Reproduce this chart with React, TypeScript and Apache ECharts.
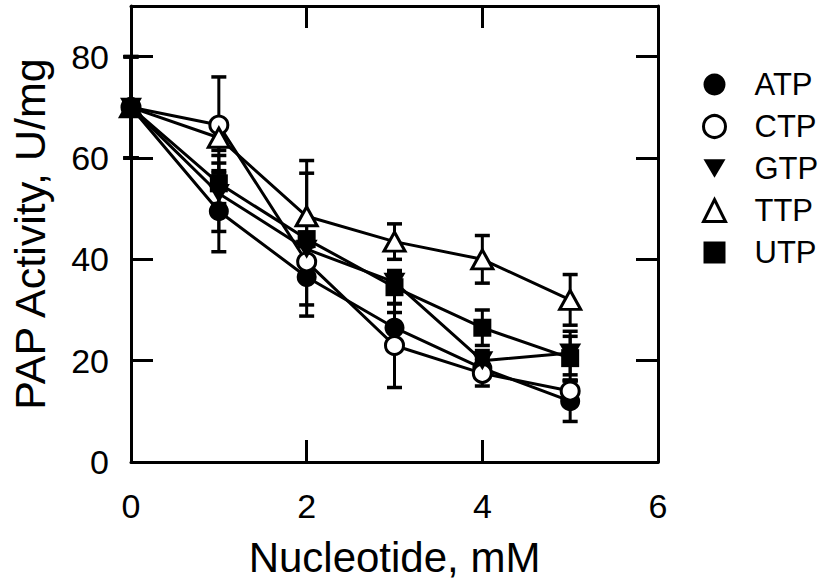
import React, { useEffect, useRef } from "react";
import * as echarts from "echarts";

const concentrations = [0, 1, 2, 3, 4, 5];
const xTicks = [0, 2, 4, 6];
const yTicks = [0, 20, 40, 60, 80];

const atp = [70, 49.5, 36.5, 26.5, 18.5, 12];
const atpErr = [10, 8, 7.7, 3, 2, 4];
const ctp = [70, 66.5, 39.5, 23, 17.5, 14];
const ctpErr = [10, 9.5, 3, 8.3, 2.5, 2];
const gtp = [70, 53, 42, 35.5, 20, 21.5];
const gtpErr = [10, 7.5, 3, 2, 2, 4.3];
const ttp = [70, 64, 48.5, 43.5, 40, 32];
const ttpErr = [10, 2.5, 11, 3.5, 4.7, 5];
const utp = [70, 55, 44, 34.5, 26.5, 20.5];
const utpErr = [10, 4, 13, 3.3, 3.5, 4.3];

const FONT = "Liberation Sans, Arial, Helvetica, sans-serif";
const DOWN_TRI = "path://M0,0 L20,0 L10,17 Z";

export default function App() {
  const ref = useRef<HTMLDivElement>(null);
  useEffect(() => {
    if (!ref.current) return;
    const chart = echarts.init(ref.current, null, { renderer: "svg" });

    const defs = [
      { name: "ATP", vals: atp, err: atpErr, symbol: "circle", size: 20, rotate: 0, fill: "#000", border: 0, legendIcon: "circle", legendFill: "#000" },
      { name: "CTP", vals: ctp, err: ctpErr, symbol: "circle", size: 18, rotate: 0, fill: "#fff", border: 3, legendIcon: "circle", legendFill: "#fff" },
      { name: "GTP", vals: gtp, err: gtpErr, symbol: "triangle", size: [22, 19], rotate: 180, fill: "#000", border: 0, legendIcon: DOWN_TRI, legendFill: "#000" },
      { name: "TTP", vals: ttp, err: ttpErr, symbol: "triangle", size: [21, 19], rotate: 0, fill: "#fff", border: 3, legendIcon: "triangle", legendFill: "#fff" },
      { name: "UTP", vals: utp, err: utpErr, symbol: "rect", size: 18, rotate: 0, fill: "#000", border: 0, legendIcon: "rect", legendFill: "#000" },
    ];

    const errRows: number[][] = [];
    defs.forEach((d) => {
      concentrations.forEach((c, i) => {
        errRows.push([c, d.vals[i] - d.err[i], d.vals[i] + d.err[i]]);
      });
    });

    const lineSeries = defs.map((d, k) => ({
      name: d.name,
      type: "line",
      xAxisIndex: 0,
      yAxisIndex: 0,
      data: concentrations.map((c, i) => [c, d.vals[i]]),
      symbol: d.symbol,
      symbolSize: d.size,
      symbolRotate: d.rotate,
      showAllSymbol: true,
      lineStyle: { color: "#000", width: 3 },
      itemStyle: { color: d.fill, borderColor: "#000", borderWidth: d.border },
      z: 3 + k,
      emphasis: { disabled: true },
    }));

    const axisCommon = {
      axisLine: { onZero: false, lineStyle: { color: "#000", width: 3 } },
      axisTick: { inside: true, length: 22, lineStyle: { color: "#000", width: 3 } },
      splitLine: { show: false },
    };

    chart.setOption({
      animation: false,
      backgroundColor: "#fff",
      grid: { left: 124, right: 161, top: 6, bottom: 120, containLabel: false },
      legend: {
        orient: "vertical",
        left: 697,
        top: 64,
        itemWidth: 22,
        itemHeight: 22,
        itemGap: 11,
        selectedMode: false,
        textStyle: { fontSize: 31, color: "#000", fontFamily: FONT, lineHeight: 30, padding: [0, 0, 0, 24] },
        data: defs.map((d) => ({
          name: d.name,
          icon: d.legendIcon,
          itemStyle: { color: d.legendFill, borderColor: "#000", borderWidth: d.border },
        })),
      },
      xAxis: [
        {
          type: "value",
          min: 0,
          max: 6,
          interval: 2,
          position: "bottom",
          ...axisCommon,
          axisLabel: { fontSize: 34, color: "#000", fontFamily: FONT, margin: 27, formatter: (v: number) => (xTicks.includes(v) ? String(v) : "") },
          name: "Nucleotide, mM",
          nameLocation: "middle",
          nameGap: 74,
          nameTextStyle: { fontSize: 42, color: "#000", fontFamily: FONT },
        },
        {
          type: "value",
          min: 0,
          max: 6,
          interval: 2,
          position: "top",
          ...axisCommon,
          axisLabel: { show: false },
        },
      ],
      yAxis: [
        {
          type: "value",
          min: 0,
          max: 90,
          interval: 20,
          position: "left",
          ...axisCommon,
          axisLabel: { fontSize: 34, color: "#000", fontFamily: FONT, margin: 22, formatter: (v: number) => (yTicks.includes(v) ? String(v) : "") },
          name: "PAP Activity, U/mg",
          nameLocation: "middle",
          nameGap: 80,
          nameTextStyle: { fontSize: 43, color: "#000", fontFamily: FONT },
        },
        {
          type: "value",
          min: 0,
          max: 90,
          interval: 20,
          position: "right",
          ...axisCommon,
          axisLabel: { show: false },
        },
      ],
      series: [
        {
          name: "errors",
          type: "custom",
          xAxisIndex: 0,
          yAxisIndex: 0,
          data: errRows,
          encode: { x: 0, y: [1, 2] },
          z: 2,
          silent: true,
          renderItem: (params: any, api: any) => {
            const x = api.value(0);
            const lo = api.coord([x, api.value(1)]);
            const hi = api.coord([x, api.value(2)]);
            const w = 7.5;
            const st = { stroke: "#000", lineWidth: 3 };
            return {
              type: "group",
              children: [
                { type: "line", shape: { x1: lo[0], y1: lo[1], x2: hi[0], y2: hi[1] }, style: st },
                { type: "line", shape: { x1: lo[0] - w, y1: lo[1], x2: lo[0] + w, y2: lo[1] }, style: { stroke: "#000", lineWidth: 3.5 } },
                { type: "line", shape: { x1: hi[0] - w, y1: hi[1], x2: hi[0] + w, y2: hi[1] }, style: { stroke: "#000", lineWidth: 3.5 } },
              ],
            };
          },
        },
        ...lineSeries,
      ],
    });
    return () => chart.dispose();
  }, []);
  return <div ref={ref} style={{ width: 819, height: 583, position: "absolute", left: 0, top: 0 }} />;
}
